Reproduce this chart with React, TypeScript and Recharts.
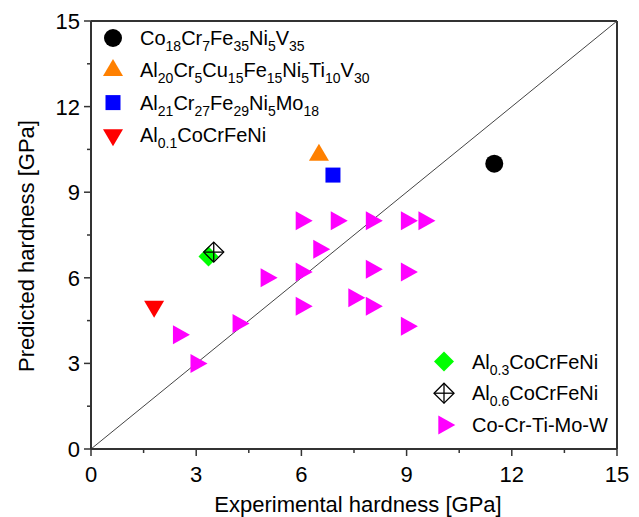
import { ScatterChart, Scatter, XAxis, YAxis, ReferenceLine } from "recharts";

// series (experimental vs predicted hardness, GPa)
const coCrFeNiV = [{ x: 11.5, y: 10 }];
const alCrCuFeNiTiV = [{ x: 6.5, y: 10.3 }];
const alCrFeNiMo = [{ x: 6.9, y: 9.6 }];
const al01 = [{ x: 1.8, y: 5 }];
const al03 = [{ x: 3.35, y: 6.75 }];
const al06 = [{ x: 3.5, y: 6.9 }];
const cctmwX = [6, 7, 8, 9, 9.5, 6.5, 5, 6, 8, 9, 6, 7.5, 8, 9, 4.2, 2.5, 3];
const cctmwY = [8, 8, 8, 8, 8, 7, 6, 6.2, 6.3, 6.2, 5, 5.3, 5, 4.3, 4.4, 4, 3];
const coCrTiMoW = cctmwX.map((x, i) => ({ x, y: cctmwY[i] }));

const axisTicks = [0, 1.5, 3, 4.5, 6, 7.5, 9, 10.5, 12, 13.5, 15];
const majorTicks = [0, 3, 6, 9, 12, 15];

const FONT = "'Liberation Sans', Arial, sans-serif";
const AXIS = "#333";

type Mk = "circle" | "up" | "square" | "down" | "diamond" | "xdiamond" | "right";

const marker = (kind: Mk, cx: number, cy: number, color: string) => {
  switch (kind) {
    case "circle":
      return <circle cx={cx} cy={cy} r={9} fill={color} />;
    case "up":
      return (
        <polygon
          points={`${cx},${cy - 11.3} ${cx - 10},${cy + 5.7} ${cx + 10},${cy + 5.7}`}
          fill={color}
        />
      );
    case "square":
      return <rect x={cx - 7.5} y={cy - 7.5} width={15} height={15} fill={color} />;
    case "down":
      return (
        <polygon
          points={`${cx - 10},${cy - 5.7} ${cx + 10},${cy - 5.7} ${cx},${cy + 11.3}`}
          fill={color}
        />
      );
    case "diamond":
      return (
        <polygon
          points={`${cx},${cy - 10} ${cx + 10},${cy} ${cx},${cy + 10} ${cx - 10},${cy}`}
          fill={color}
        />
      );
    case "xdiamond":
      return (
        <g stroke="#000" strokeWidth={1.3} fill="none">
          <polygon points={`${cx},${cy - 10} ${cx + 10},${cy} ${cx},${cy + 10} ${cx - 10},${cy}`} />
          <line x1={cx - 10} y1={cy} x2={cx + 10} y2={cy} />
          <line x1={cx} y1={cy - 10} x2={cx} y2={cy + 10} />
        </g>
      );
    case "right":
      return (
        <polygon
          points={`${cx - 5.7},${cy - 9.5} ${cx - 5.7},${cy + 9.5} ${cx + 11.3},${cy}`}
          fill={color}
        />
      );
  }
};

const shape = (kind: Mk, color: string) => (p: any) => marker(kind, p.cx, p.cy, color);

const XTick = (p: any) => {
  const major = majorTicks.includes(p.payload.value);
  return (
    <g>
      <line x1={p.x} y1={p.y} x2={p.x} y2={p.y + (major ? 7 : 4)} stroke={AXIS} strokeWidth={1.5} />
      {major && (
        <text x={p.x} y={p.y + 33} textAnchor="middle" fontSize={22} fontFamily={FONT} fill="#000">
          {p.payload.value}
        </text>
      )}
    </g>
  );
};

const YTick = (p: any) => {
  const major = majorTicks.includes(p.payload.value);
  return (
    <g>
      <line x1={p.x} y1={p.y} x2={p.x - (major ? 7 : 4)} y2={p.y} stroke={AXIS} strokeWidth={1.5} />
      {major && (
        <text x={p.x - 11} y={p.y + 8} textAnchor="end" fontSize={22} fontFamily={FONT} fill="#000">
          {p.payload.value}
        </text>
      )}
    </g>
  );
};

// label parts: [text, isSubscript]
type Part = [string, boolean];
const topLegend: { kind: Mk; color: string; parts: Part[] }[] = [
  { kind: "circle", color: "#000000", parts: [["Co", false], ["18", true], ["Cr", false], ["7", true], ["Fe", false], ["35", true], ["Ni", false], ["5", true], ["V", false], ["35", true]] },
  { kind: "up", color: "#FF8000", parts: [["Al", false], ["20", true], ["Cr", false], ["5", true], ["Cu", false], ["15", true], ["Fe", false], ["15", true], ["Ni", false], ["5", true], ["Ti", false], ["10", true], ["V", false], ["30", true]] },
  { kind: "square", color: "#0000FF", parts: [["Al", false], ["21", true], ["Cr", false], ["27", true], ["Fe", false], ["29", true], ["Ni", false], ["5", true], ["Mo", false], ["18", true]] },
  { kind: "down", color: "#FF0000", parts: [["Al", false], ["0.1", true], ["CoCrFeNi", false]] },
];
const bottomLegend: { kind: Mk; color: string; parts: Part[] }[] = [
  { kind: "diamond", color: "#00FF00", parts: [["Al", false], ["0.3", true], ["CoCrFeNi", false]] },
  { kind: "xdiamond", color: "#000", parts: [["Al", false], ["0.6", true], ["CoCrFeNi", false]] },
  { kind: "right", color: "#FF00FF", parts: [["Co-Cr-Ti-Mo-W", false]] },
];

const LegendBlock = ({ items, mx, tx, y0, step }: { items: typeof topLegend; mx: number; tx: number; y0: number; step: number }) => (
  <g>
    {items.map((it, i) => {
      const cy = y0 + i * step;
      let sub = false;
      return (
        <g key={i}>
          {marker(it.kind, mx, cy, it.color)}
          <text x={tx} y={cy + 7} fontSize={20} fontFamily={FONT} fill="#000">
            {it.parts.map(([t, s], j) => {
              const dy = s === sub ? 0 : s ? 6 : -6;
              sub = s;
              return (
                <tspan key={j} dy={dy} fontSize={s ? 14 : 20}>
                  {t}
                </tspan>
              );
            })}
          </text>
        </g>
      );
    })}
  </g>
);

export default function App() {
  return (
    <div style={{ position: "absolute", left: 0, top: 0, width: 639, height: 517, background: "#fff" }}>
      <ScatterChart width={639} height={517} margin={{ top: 21, right: 22, left: 31, bottom: 18 }}>
        <XAxis
          type="number"
          dataKey="x"
          domain={[0, 15]}
          ticks={axisTicks}
          interval={0}
          tickSize={0}
          tickMargin={0}
          tickLine={false}
          tick={XTick}
          height={50}
          axisLine={{ stroke: AXIS, strokeWidth: 2 }}
        />
        <YAxis
          type="number"
          dataKey="y"
          domain={[0, 15]}
          ticks={axisTicks}
          interval={0}
          tickSize={0}
          tickMargin={0}
          tickLine={false}
          tick={YTick}
          width={60}
          axisLine={{ stroke: AXIS, strokeWidth: 2 }}
        />
        <ReferenceLine y={15} stroke={AXIS} strokeWidth={2} />
        <ReferenceLine x={15} stroke={AXIS} strokeWidth={2} />
        <ReferenceLine
          segment={[
            { x: 0, y: 0 },
            { x: 15, y: 15 },
          ]}
          stroke="#444"
          strokeWidth={1}
        />
        <Scatter data={coCrTiMoW} shape={shape("right", "#FF00FF")} isAnimationActive={false} />
        <Scatter data={coCrFeNiV} shape={shape("circle", "#000000")} isAnimationActive={false} />
        <Scatter data={alCrCuFeNiTiV} shape={shape("up", "#FF8000")} isAnimationActive={false} />
        <Scatter data={alCrFeNiMo} shape={shape("square", "#0000FF")} isAnimationActive={false} />
        <Scatter data={al01} shape={shape("down", "#FF0000")} isAnimationActive={false} />
        <Scatter data={al03} shape={shape("diamond", "#00FF00")} isAnimationActive={false} />
        <Scatter data={al06} shape={shape("xdiamond", "#000")} isAnimationActive={false} />
      </ScatterChart>
      <svg width={639} height={517} style={{ position: "absolute", left: 0, top: 0, pointerEvents: "none" }}>
        <LegendBlock items={topLegend} mx={113} tx={140} y0={38} step={32.3} />
        <LegendBlock items={bottomLegend} mx={444} tx={472} y0={361.5} step={31.7} />
        <text x={358} y={512} textAnchor="middle" fontSize={22} fontFamily={FONT} fill="#000">
          Experimental hardness [GPa]
        </text>
        <text
          x={0}
          y={0}
          transform="translate(34 246) rotate(-90)"
          textAnchor="middle"
          fontSize={22}
          fontFamily={FONT}
          fill="#000"
        >
          Predicted hardness [GPa]
        </text>
      </svg>
    </div>
  );
}
